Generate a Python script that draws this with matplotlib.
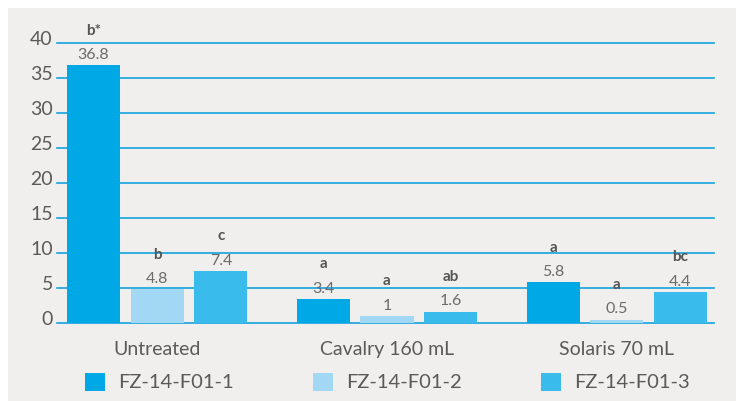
import numpy as np
import matplotlib
matplotlib.use("Agg")
import matplotlib.pyplot as plt
import matplotlib.transforms as mtransforms
from matplotlib.patches import Rectangle

categories = ["Untreated", "Cavalry 160 mL", "Solaris 70 mL"]
series_names = ["FZ-14-F01-1", "FZ-14-F01-2", "FZ-14-F01-3"]
values = [
    [36.8, 3.4, 5.8],
    [4.8, 1, 0.5],
    [7.4, 1.6, 4.4],
]
value_labels = [
    ["36.8", "3.4", "5.8"],
    ["4.8", "1", "0.5"],
    ["7.4", "1.6", "4.4"],
]
letters = [
    ["b*", "a", "a"],
    ["b", "a", "a"],
    ["c", "ab", "bc"],
]
colors = ["#00a9e5", "#a3d8f4", "#39bbeb"]
text_col = "#5a5a5a"
grid_col = "#12a3dc"

plt.rcParams["font.family"] = ["Lato", "DejaVu Sans"]

W, H = 736, 401
fig = plt.figure(figsize=(W / 100, H / 100), dpi=100)
fig.patch.set_facecolor("white")
bg = Rectangle((8 / W, 0), 1, (H - 8) / H, transform=fig.transFigure,
               facecolor="#f0efee", edgecolor="none", zorder=-10)
fig.add_artist(bg)

# axes: x 57..714, y0 at 323, y40 at 43
ax = fig.add_axes([57 / W, (H - 323) / H, (714 - 57) / W, 280 / H])
ax.set_facecolor("none")

x = np.arange(len(categories))
width = 0.231
step = 0.277
bars = []
for i, (vals, col) in enumerate(zip(values, colors)):
    pos = x + (i - 1) * step
    b = ax.bar(pos, vals, width=width, color=col, zorder=3, label=series_names[i])
    bars.append(b)
    for p, v, lab, let in zip(pos, vals, value_labels[i], letters[i]):
        ax.annotate(lab, (p, v), xytext=(0, 7.5), textcoords="offset points",
                    ha="center", va="center", fontsize=11.5, color="#6b6b6b", zorder=4)
        ax.annotate(let, (p, v), xytext=(0, 25), textcoords="offset points",
                    ha="center", va="center", fontsize=11, color="#555555",
                    fontweight="bold", zorder=4)

ax.set_xlim(-0.436, 2.423)
ax.set_ylim(0, 40)
ax.set_yticks(np.arange(0, 41, 5))
ax.yaxis.grid(True, color=grid_col, linewidth=1.2, zorder=1)
ax.set_axisbelow(True)
for gl in ax.get_ygridlines():
    gl.set_clip_on(False)
for s in ax.spines.values():
    s.set_visible(False)
ax.tick_params(axis="y", length=0, pad=3, labelsize=14, labelcolor=text_col)
up = mtransforms.ScaledTranslation(0, 5 / 100, fig.dpi_scale_trans)
for lab in ax.get_yticklabels():
    lab.set_transform(lab.get_transform() + up)
ax.set_xticks(x)
ax.set_xticklabels(categories)
ax.tick_params(axis="x", length=0, pad=13, labelsize=14, labelcolor=text_col)

# legend: one entry per block, left edge of square at these pixel x
leg_x = [85, 313, 541]
for b, name, lx in zip(bars, series_names, leg_x):
    lg = fig.legend([b], [name], loc="center left",
                    bbox_to_anchor=(lx / W, (H - 382) / H),
                    frameon=False, fontsize=14.5, labelcolor=text_col,
                    handlelength=1.0, handleheight=1.0, handletextpad=0.65,
                    borderpad=0, borderaxespad=0)

fig.savefig("out.png", dpi=100)
